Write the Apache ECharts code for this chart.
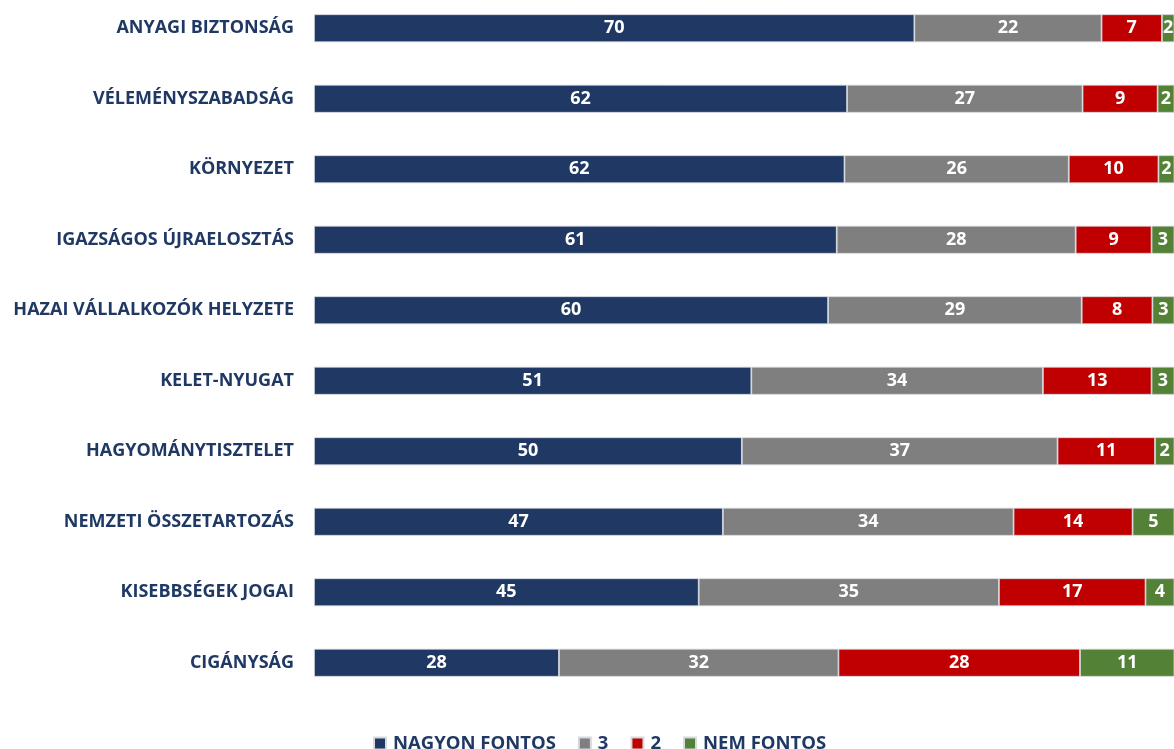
<!DOCTYPE html>
<html>
<head>
<meta charset="utf-8">
<script src="https://cdn.jsdelivr.net/npm/echarts@6/dist/echarts.min.js"></script>
<style>
  html, body { margin: 0; padding: 0; background: #fff; }
  #chart { width: 1174px; height: 749px; }
</style>
</head>
<body>
<div id="chart"></div>
<script>
// kategóriák felülről lefelé
const categories = [
  'ANYAGI BIZTONSÁG',
  'VÉLEMÉNYSZABADSÁG',
  'KÖRNYEZET',
  'IGAZSÁGOS ÚJRAELOSZTÁS',
  'HAZAI VÁLLALKOZÓK HELYZETE',
  'KELET-NYUGAT',
  'HAGYOMÁNYTISZTELET',
  'NEMZETI ÖSSZETARTOZÁS',
  'KISEBBSÉGEK JOGAI',
  'CIGÁNYSÁG'
];

const seriesNames = ['NAGYON FONTOS', '3', '2', 'NEM FONTOS'];

// értékek a sávhosszakból becsülve, a címke kerekítve
const nagyonFontos = [69.6, 61.8, 61.5, 60.6, 59.6, 50.7, 49.6, 47.4, 44.6, 28.4];
const harom        = [21.7, 27.3, 26.0, 27.7, 29.4, 33.8, 36.6, 33.7, 34.8, 32.4];
const ketto        = [7.0, 8.7, 10.4, 8.8, 8.2, 12.6, 11.3, 13.8, 17.0, 28.0];
const nemFontos    = [1.7, 2.2, 2.1, 2.9, 2.8, 2.9, 2.4, 5.1, 3.6, 11.2];

const colors = ['#1F3864', '#7F7F7F', '#C00000', '#538135'];
const font = '"Open Sans", "DejaVu Sans", sans-serif';

const chart = echarts.init(document.getElementById('chart'));

const makeSeries = (name, data, color) => ({
  name: name,
  type: 'bar',
  stack: 'total',
  barWidth: 28,
  data: data,
  itemStyle: {
    color: color,
    borderColor: '#d6d9e0',
    borderWidth: 0.8
  },
  label: {
    show: true,
    position: 'inside',
    color: '#fff',
    fontFamily: font,
    fontWeight: 'bold',
    fontSize: 18,
    formatter: p => Math.round(p.value)
  }
});

chart.setOption({
  animation: false,
  grid: {
    left: 314,
    right: 0,
    top: -7,
    bottom: 51,
    outerBoundsMode: 'none'
  },
  legend: {
    left: 368,
    top: 729,
    itemWidth: 12,
    itemHeight: 12,
    itemGap: 22,
    icon: 'rect',
    textStyle: {
      color: '#1F3864',
      fontFamily: font,
      fontWeight: 'bold',
      fontSize: 18.5,
      padding: [0, 0, 0, 2]
    },
    data: seriesNames
  },
  xAxis: {
    type: 'value',
    min: 0,
    max: 99.7,
    show: false
  },
  yAxis: {
    type: 'category',
    inverse: true,
    data: categories,
    axisLine: { show: false },
    axisTick: { show: false },
    axisLabel: {
      margin: 20,
      color: '#1F3864',
      fontFamily: font,
      fontWeight: 'bold',
      fontSize: 18
    }
  },
  series: [
    makeSeries(seriesNames[0], nagyonFontos, colors[0]),
    makeSeries(seriesNames[1], harom, colors[1]),
    makeSeries(seriesNames[2], ketto, colors[2]),
    makeSeries(seriesNames[3], nemFontos, colors[3])
  ]
});
</script>
</body>
</html>
